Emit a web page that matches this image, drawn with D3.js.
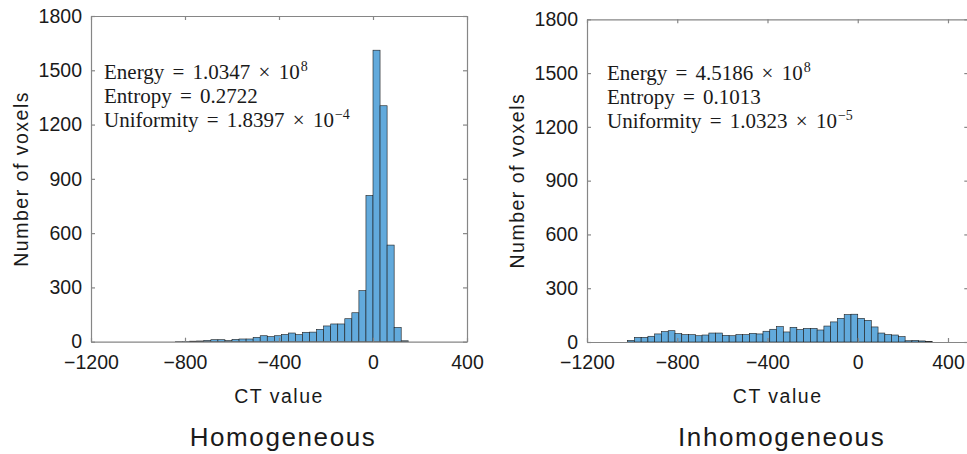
<!DOCTYPE html>
<html lang="en">
<head>
<meta charset="utf-8">
<title>CT value histograms</title>
<script src="https://cdn.jsdelivr.net/npm/d3@7"></script>
<style>
  body { margin: 0; background: #fff; }
  svg { display: block; }
  .tick text { font-family: "Liberation Sans", Arial, sans-serif; font-size: 19.5px; fill: #1a1a1a; }
  .axis path, .axis line { stroke: #868686; stroke-width: 1.2; }
  .lbl { font-family: "Liberation Sans", Arial, sans-serif; fill: #1a1a1a; }
  .stats { font-family: "Liberation Serif", "Times New Roman", serif; font-size: 21px; fill: #1a1a1a; word-spacing: 3px; }
</style>
</head>
<body>
<script>

// histogram bins (left edge of each bin, CT value) and counts
var binWidth = 30;

var homoBins = [-840, -810, -780, -750, -720, -690, -660, -630, -600, -570, -540,
  -510, -480, -450, -420, -390, -360, -330, -300, -270, -240, -210, -180, -150,
  -120, -90, -60, -30, 0, 30, 60, 90, 120];
var homoCounts = [1, 2, 3, 4, 7, 11, 11, 6, 13, 15, 15,
  24, 33, 28, 33, 40, 48, 39, 52, 53, 68, 87, 98, 98,
  127, 160, 282, 808, 1611, 1304, 534, 79, 5];

var inhomoBins = [-1020, -990, -960, -930, -900, -870, -840, -810, -780, -750,
  -720, -690, -660, -630, -600, -570, -540, -510, -480, -450, -420, -390, -360,
  -330, -300, -270, -240, -210, -180, -150, -120, -90, -60, -30, 0, 30, 60, 90,
  120, 150, 180, 210, 240, 270, 300];
var inhomoCounts = [9, 26, 26, 32, 45, 58, 63, 47, 41, 41,
  35, 39, 50, 50, 37, 35, 41, 41, 48, 45, 60, 71, 86,
  56, 82, 69, 76, 76, 67, 89, 112, 132, 153, 155, 132, 121, 84, 50,
  41, 39, 30, 7, 9, 6, 2];

var xTicks = [-1200, -800, -400, 0, 400];
var yTicks = [0, 300, 600, 900, 1200, 1500, 1800];

// annotation lines: [text, superscript]
var homoStats = [["Energy = 1.0347 × 10", "8"], ["Entropy = 0.2722", ""], ["Uniformity = 1.8397 × 10", "−4"]];
var inhomoStats = [["Energy = 4.5186 × 10", "8"], ["Entropy = 0.1013", ""], ["Uniformity = 1.0323 × 10", "−5"]];

var titles = ["Homogeneous", "Inhomogeneous"];

var w = 967, h = 454;
var svg = d3.select("body").append("svg")
  .attr("width", w)
  .attr("height", h);

var panels = [
  {bins: homoBins, counts: homoCounts, stats: homoStats, title: titles[0],
   left: 91, top: 16, width: 376, height: 325.7, xMax: 400, textX: 104, textY: 79},
  {bins: inhomoBins, counts: inhomoCounts, stats: inhomoStats, title: titles[1],
   left: 587, top: 19.3, width: 381.3, height: 322.7, xMax: 490, textX: 607, textY: 80}
];

panels.forEach(function(p) {
  var x = d3.scaleLinear().domain([-1200, p.xMax]).range([p.left, p.left + p.width]);
  var y = d3.scaleLinear().domain([0, 1800]).range([p.top + p.height, p.top]);
  var g = svg.append("g");

  // bars
  g.selectAll("rect.bar")
    .data(p.bins)
    .enter()
    .append("rect")
    .attr("class", "bar")
    .attr("x", function(d) { return x(d); })
    .attr("width", function(d) { return x(d + binWidth) - x(d); })
    .attr("y", function(d, i) { return y(p.counts[i]); })
    .attr("height", function(d, i) { return y(0) - y(p.counts[i]); })
    .attr("fill", "#62aadc")
    .attr("stroke", "#1c1c1c")
    .attr("stroke-width", 0.6);

  // box axes, ticks pointing inward
  g.append("g").attr("class", "axis")
    .attr("transform", "translate(0," + y(0) + ")")
    .call(d3.axisBottom(x).tickValues(xTicks).tickSize(-4).tickSizeOuter(0).tickPadding(13)
      .tickFormat(function(d) { return d < 0 ? "\u2212" + Math.abs(d) : d; }));
  g.append("g").attr("class", "axis")
    .attr("transform", "translate(0," + y(1800) + ")")
    .call(d3.axisTop(x).tickValues(xTicks).tickSize(-4).tickSizeOuter(0).tickFormat(""));
  g.append("g").attr("class", "axis")
    .attr("transform", "translate(" + x(-1200) + ",0)")
    .call(d3.axisLeft(y).tickValues(yTicks).tickSize(-4).tickSizeOuter(0).tickPadding(9)
      .tickFormat(d3.format("d")));
  g.append("g").attr("class", "axis")
    .attr("transform", "translate(" + x(p.xMax) + ",0)")
    .call(d3.axisRight(y).tickValues(yTicks).tickSize(-4).tickSizeOuter(0).tickFormat(""));

  // stats text
  var st = g.selectAll("text.stats")
    .data(p.stats)
    .enter()
    .append("text")
    .attr("class", "stats")
    .attr("x", p.textX)
    .attr("y", function(d, i) { return p.textY + i * 24; });
  st.append("tspan").text(function(d) { return d[0]; });
  st.append("tspan")
    .attr("dy", -8)
    .attr("dx", 1)
    .attr("font-size", "14px")
    .text(function(d) { return d[1]; });

  var cx = p.left + p.width / 2;

  g.append("text").attr("class", "lbl")
    .attr("x", cx).attr("y", 403)
    .attr("text-anchor", "middle")
    .attr("font-size", "19.5px")
    .attr("letter-spacing", "1.5px")
    .text("CT value");

  g.append("text").attr("class", "lbl")
    .attr("transform", "translate(" + (p.left - 70) + "," + (p.top + p.height / 2) + ") rotate(-90)")
    .attr("text-anchor", "middle")
    .attr("dy", "0.35em")
    .attr("font-size", "19.5px")
    .attr("letter-spacing", "1.5px")
    .text("Number of voxels");

  g.append("text").attr("class", "lbl")
    .attr("x", cx + 4).attr("y", 446)
    .attr("text-anchor", "middle")
    .attr("font-size", "26px")
    .attr("letter-spacing", "1.6px")
    .text(p.title);
});

</script>
</body>
</html>
